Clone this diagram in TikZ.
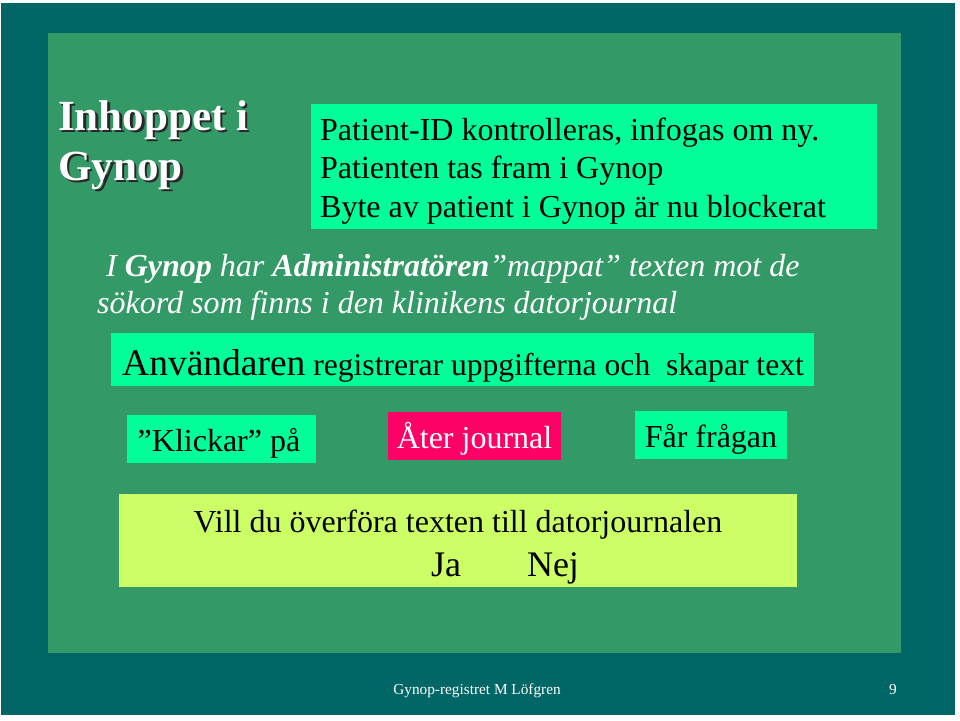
\documentclass[tikz,border=0pt]{standalone}
\usepackage{fontspec}
\setmainfont{Liberation Serif}
\definecolor{slideteal}{RGB}{0,102,102}
\definecolor{slidegreen}{RGB}{51,153,102}
\definecolor{mintbox}{RGB}{0,255,153}
\definecolor{pinkbox}{RGB}{255,0,102}
\definecolor{limebox}{RGB}{204,255,102}
\definecolor{shadowgrey}{RGB}{40,40,40}
\begin{document}
\begin{tikzpicture}[x=1pt,y=-1pt,
    line/.style={anchor=base west,inner sep=0pt},
    title/.style={line,font=\fontsize{43}{50}\selectfont\bfseries},
    boxtext/.style={line,font=\fontsize{32}{38}\selectfont},
    remark/.style={line,text=white,font=\fontsize{32}{36}\selectfont\itshape}]
		 % Draw the slide
		 \fill[white] (0,0) rectangle (960,720);
		 \fill[slideteal] (1,3) rectangle (955,715);
		 \fill[slidegreen] (48,33) rectangle (901,653);

		 % Draw the boxes
		 \fill[mintbox] (311,104) rectangle (877,229);
		 \fill[mintbox] (111,333) rectangle (814,386);
		 \fill[mintbox] (127,415) rectangle (316,463);
		 \fill[pinkbox] (388,412) rectangle (561,460);
		 \fill[mintbox] (635,411) rectangle (787,459);
		 \fill[limebox] (119,494) rectangle (797,587);

		 % Label the title
		 \node[title,text=shadowgrey] (titleAs) at (60.5,132.5) {Inhoppet i};
		 \node[title,text=shadowgrey] (titleBs) at (60.5,182.5) {Gynop};
		 \node[title,text=white] (titleA) at (58,130) {Inhoppet i};
		 \node[title,text=white] (titleB) at (58,180) {Gynop};

		 % Label the boxes
		 \node[boxtext] (patA) at (320,140) {Patient-ID kontrolleras, infogas om ny.};
		 \node[boxtext] (patB) at (320,178.5) {Patienten tas fram i Gynop};
		 \node[boxtext] (patC) at (320,217) {Byte av patient i Gynop är nu blockerat};
		 \node[remark] (mapA) at (106,276) {I \textbf{Gynop} har \textbf{Administratören}”mappat” texten mot de};
		 \node[remark] (mapB) at (97,313) {sökord som finns i den klinikens datorjournal};
		 \node[boxtext,font=\fontsize{31.6}{38}\selectfont] (user) at (122,375) {{\fontsize{37.5}{38}\selectfont Användaren} registrerar uppgifterna och\ \ skapar text};
		 \node[boxtext,anchor=base] (click) at (219,451) {”Klickar” på};
		 \node[boxtext,anchor=base,text=white] (back) at (474.5,448) {Åter journal};
		 \node[boxtext,anchor=base] (ask) at (711,447) {Får frågan};
		 \node[boxtext,anchor=base] (move) at (458,532) {Vill du överföra texten till datorjournalen};
		 \node[boxtext,anchor=base,font=\fontsize{36}{36}\selectfont] (yes) at (446,576) {Ja};
		 \node[boxtext,anchor=base,font=\fontsize{36}{36}\selectfont] (no) at (553,576) {Nej};

		 % Label the footer
		 \node[line,anchor=base,text=white,font=\fontsize{15.3}{16}\selectfont] (foot) at (477,694) {Gynop-registret M Löfgren};
		 \node[line,anchor=base,text=white,font=\fontsize{15.3}{16}\selectfont] (page) at (893,694) {9};
	\end{tikzpicture}
\end{document}
